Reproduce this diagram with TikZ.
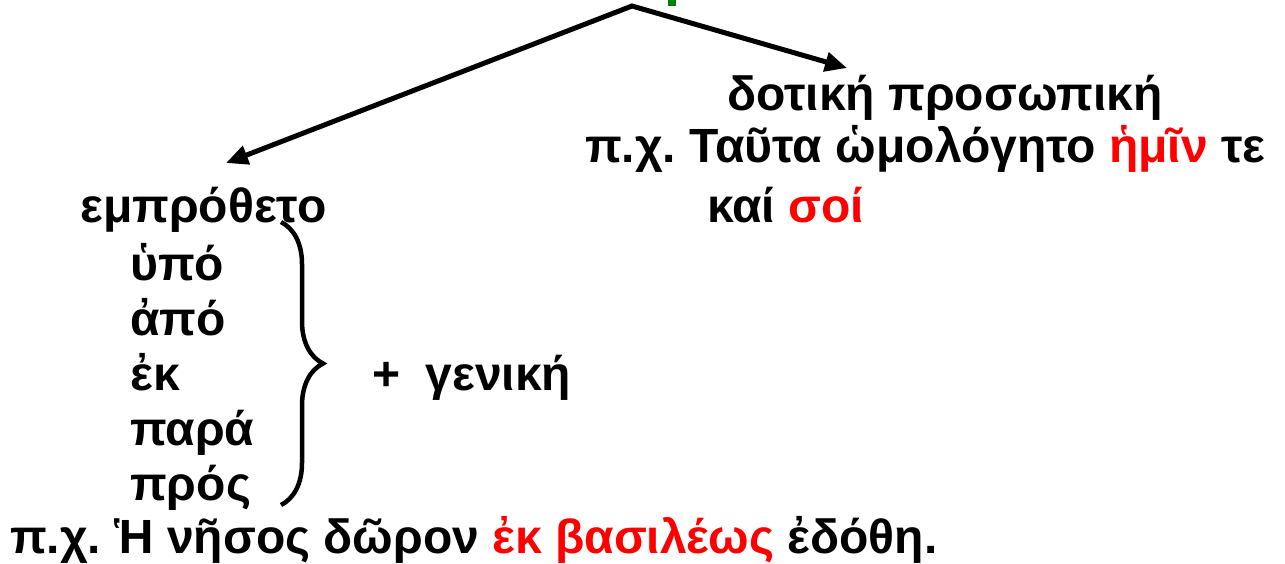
\documentclass[tikz,border=0pt]{standalone}
\usepackage{fontspec}
\setmainfont{Liberation Sans}
\usetikzlibrary{arrows.meta,positioning,decorations.pathreplacing}
\definecolor{GkRed}{HTML}{FF0000}
\definecolor{GkGreen}{HTML}{008000}
\frenchspacing

\begin{document}
\begin{tikzpicture}[
    x=1pt, y=-1pt,
    txt/.style={font=\fontsize{48}{56}\selectfont\bfseries,
      inner sep=0pt, anchor=base west},
    arr/.style={{Triangle[length=22pt,width=19pt]}-{Triangle[length=22pt,width=19pt]},
      line width=5pt, line join=miter},
    brc/.style={decorate, decoration={brace, amplitude=42pt}, line width=4.5pt}
  ]
  \useasboundingbox (0,0) rectangle (1285,563);

  % top of the tree
  \coordinate (top) at (632,6);
  \coordinate (lend) at (226,163);
  \coordinate (rend) at (847,68);
  \fill[GkGreen] (668,0) rectangle (676,6);

  \node[txt] (dot) at (727,110) {δοτική προσωπική};
  \node[txt] (ex1) at (585,162)
    {π.χ. Ταῦτα ὡμολόγητο \textcolor{GkRed}{ἡμῖν} τε};
  \node[txt] (ex2) at (707,222) {καί \textcolor{GkRed}{σοί}};

  \node[txt] (emp) at (80,222) {εμπρόθετο};
  \node[txt] (p1) at (130,280) {ὑπό};
  \node[txt] (p2) at (130,335) {ἀπό};
  \node[txt] (p3) at (130,390) {ἐκ};
  \node[txt] (p4) at (130,445) {παρά};
  \node[txt] (p5) at (130,500) {πρός};
  \node[txt] (gen) at (372,390) {+\ \hspace{12pt}γενική};
  \node[txt] (ex3) at (10,553)
    {π.χ. Ἡ νῆσος δῶρον \textcolor{GkRed}{ἐκ βασιλέως} ἐδόθη.};

  \draw[arr] (lend) -- (top) -- (rend);
  \draw[brc] (281,222) -- (281,505);

\end{tikzpicture}
\end{document}
